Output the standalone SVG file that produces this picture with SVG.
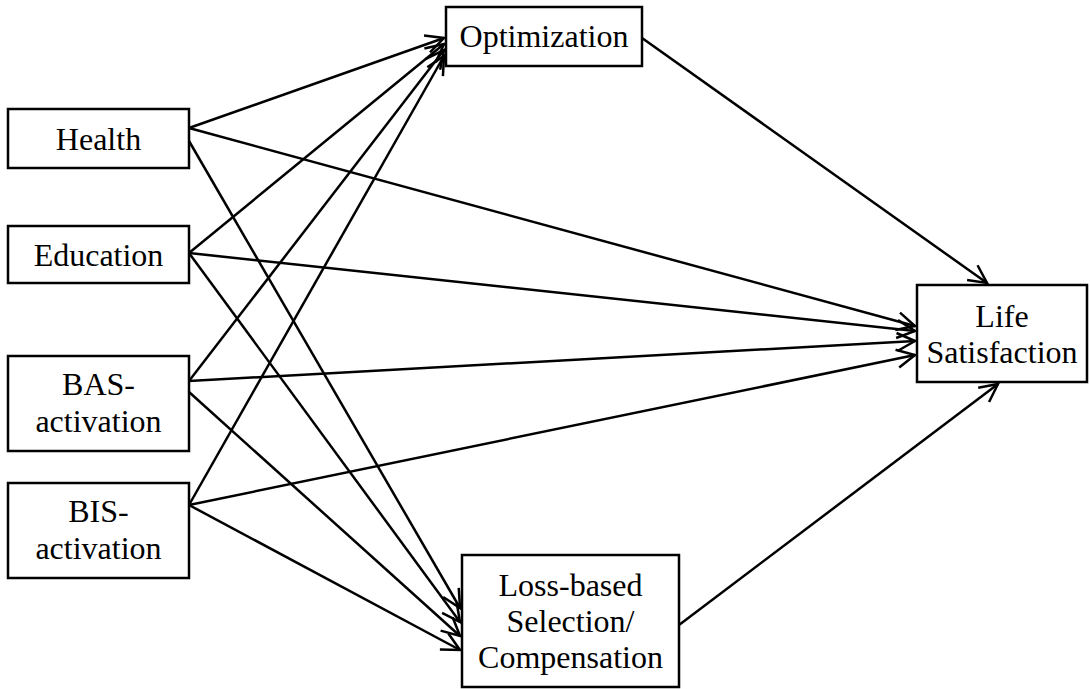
<svg xmlns="http://www.w3.org/2000/svg" width="1090" height="689" viewBox="0 0 1090 689">
  <style>
    .box { fill: #fff; stroke: #000; stroke-width: 2.5; }
    .lbl { font-family: "Liberation Serif", "Times New Roman", serif; font-size: 32px; fill: #000; text-anchor: middle; }
    .edge { stroke: #000; stroke-width: 2.5; fill: none; marker-end: url(#arrow); }
  </style>
  <defs>
    <marker id="arrow" markerUnits="userSpaceOnUse" markerWidth="24" markerHeight="24" viewBox="0 0 24 24" refX="20" refY="12" orient="auto">
      <path d="M2,3 L20,12 L2,21" fill="none" stroke="#000" stroke-width="2.5"/>
    </marker>
  </defs>
  <rect width="1090" height="689" fill="#fff"/>

  <g id="connectors">
    <!-- predictors to Optimization -->
    <line class="edge" x1="189" y1="128" x2="444" y2="38"/>
    <line class="edge" x1="189" y1="253" x2="444" y2="44"/>
    <line class="edge" x1="189" y1="381" x2="444" y2="50"/>
    <line class="edge" x1="189" y1="505" x2="444" y2="56"/>
    <!-- predictors to Life Satisfaction -->
    <line class="edge" x1="189" y1="128" x2="915" y2="326"/>
    <line class="edge" x1="189" y1="253" x2="915" y2="331"/>
    <line class="edge" x1="189" y1="381" x2="915" y2="341"/>
    <line class="edge" x1="189" y1="505" x2="915" y2="355"/>
    <!-- predictors to Loss-based Selection/Compensation -->
    <line class="edge" x1="189" y1="141" x2="460" y2="608"/>
    <line class="edge" x1="189" y1="253" x2="460" y2="622"/>
    <line class="edge" x1="189" y1="392" x2="460" y2="636"/>
    <line class="edge" x1="189" y1="505" x2="460" y2="650"/>
    <!-- mediators to Life Satisfaction -->
    <line class="edge" x1="642" y1="38" x2="987" y2="283"/>
    <line class="edge" x1="679" y1="625" x2="998" y2="384"/>
  </g>

  <g id="health">
    <rect class="box" x="8" y="109" width="181" height="59"/>
    <text class="lbl" x="98.5" y="150">Health</text>
  </g>
  <g id="education">
    <rect class="box" x="8" y="226" width="181" height="57"/>
    <text class="lbl" x="98.5" y="266">Education</text>
  </g>
  <g id="bas">
    <rect class="box" x="8" y="356" width="181" height="95"/>
    <text class="lbl" x="98.5" y="395">BAS-</text>
    <text class="lbl" x="98.5" y="432">activation</text>
  </g>
  <g id="bis">
    <rect class="box" x="8" y="483" width="181" height="95"/>
    <text class="lbl" x="98.5" y="522">BIS-</text>
    <text class="lbl" x="98.5" y="559">activation</text>
  </g>
  <g id="optimization">
    <rect class="box" x="446" y="7" width="196" height="59"/>
    <text class="lbl" x="544" y="47">Optimization</text>
  </g>
  <g id="lbsc">
    <rect class="box" x="462" y="555" width="217" height="132"/>
    <text class="lbl" x="570.5" y="596">Loss-based</text>
    <text class="lbl" x="570.5" y="632">Selection/</text>
    <text class="lbl" x="570.5" y="668">Compensation</text>
  </g>
  <g id="life">
    <rect class="box" x="917" y="285" width="170" height="97"/>
    <text class="lbl" x="1002" y="327">Life</text>
    <text class="lbl" x="1002" y="363">Satisfaction</text>
  </g>
</svg>
